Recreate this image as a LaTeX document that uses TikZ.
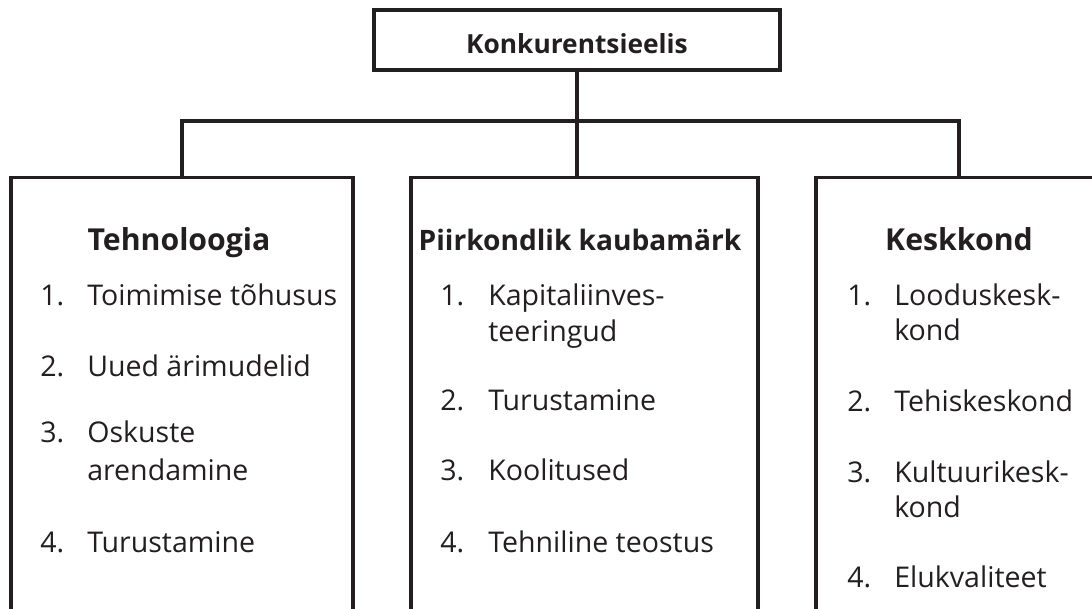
\documentclass[tikz,border=0pt]{standalone}
\usepackage{fontspec}
\setmainfont{Open Sans}
\usetikzlibrary{positioning}
\definecolor{inkgray}{HTML}{231F20}

\tikzset{
  frame/.style={draw=inkgray,line width=2.3pt,rectangle,inner sep=0pt},
  heading/.style={font=\fontsize{21.5}{25}\selectfont\bfseries,text=inkgray,anchor=base,inner sep=0pt},
  entry/.style={font=\fontsize{20.3}{24}\selectfont,text=inkgray,anchor=base west,inner sep=0pt},
}

\begin{document}
\begin{tikzpicture}[x=0.025cm,y=-0.025cm]
        \clip (0,0) rectangle (1092,608);
        %% Goal
        \node[frame,minimum width=10.15cm,minimum height=1.5cm] (goal) at (577,40) {};
        \node[heading,font=\fontsize{18.7}{22}\selectfont\bfseries] (goaltext) at (577,53) {Konkurentsieelis};
        %% Boxes
        \node[frame,minimum width=8.55cm,minimum height=11.6cm,anchor=north] (tech) at (182,176) {};
        \node[frame,minimum width=8.675cm,minimum height=11.6cm,anchor=north] (brand) at (584.5,176) {};
        \node[frame,minimum width=7.15cm,minimum height=11.6cm,anchor=north] (env) at (959,176) {};
        %% Connectors
        \coordinate (bar) at (577,121);
        \draw[inkgray,line width=2.3pt] (goal.south) -- (goal.south |- brand.north);
        \draw[inkgray,line width=2.3pt] (tech.north) |- (bar) -| (env.north);
        %% Tehnoloogia
        \node[heading] (techtitle) at (179,250) {Tehnoloogia};
        \node[entry] (tn1) at (40,305) {1.};
        \node[entry] (tt1) at (87,305) {Toimimise tõhusus};
        \node[entry] (tn2) at (40,376) {2.};
        \node[entry] (tt2) at (87,376) {Uued ärimudelid};
        \node[entry] (tn3) at (40,442) {3.};
        \node[entry] (tt3) at (87,442) {Oskuste};
        \node[entry] (tt3b) at (87,480) {arendamine};
        \node[entry] (tn4) at (40,552) {4.};
        \node[entry] (tt4) at (87,552) {Turustamine};
        %% Piirkondlik kaubamärk
        \node[heading,font=\fontsize{20}{24}\selectfont\bfseries] (brandtitle) at (580,250) {Piirkondlik kaubamärk};
        \node[entry] (bn1) at (440,305) {1.};
        \node[entry] (bt1) at (488,305) {Kapitaliinves-};
        \node[entry] (bt1b) at (488,341) {teeringud};
        \node[entry] (bn2) at (440,410) {2.};
        \node[entry] (bt2) at (488,410) {Turustamine};
        \node[entry] (bn3) at (440,480) {3.};
        \node[entry] (bt3) at (488,480) {Koolitused};
        \node[entry] (bn4) at (440,552) {4.};
        \node[entry] (bt4) at (488,552) {Tehniline teostus};
        %% Keskkond
        \node[heading] (envtitle) at (959,250) {Keskkond};
        \node[entry] (en1) at (847,305) {1.};
        \node[entry] (et1) at (894,305) {Looduskesk-};
        \node[entry] (et1b) at (894,340) {kond};
        \node[entry] (en2) at (847,411) {2.};
        \node[entry] (et2) at (894,411) {Tehiskeskond};
        \node[entry] (en3) at (847,482) {3.};
        \node[entry] (et3) at (894,482) {Kultuurikesk-};
        \node[entry] (et3b) at (894,517) {kond};
        \node[entry] (en4) at (847,587) {4.};
        \node[entry] (et4) at (894,587) {Elukvaliteet};
\end{tikzpicture}
\end{document}
